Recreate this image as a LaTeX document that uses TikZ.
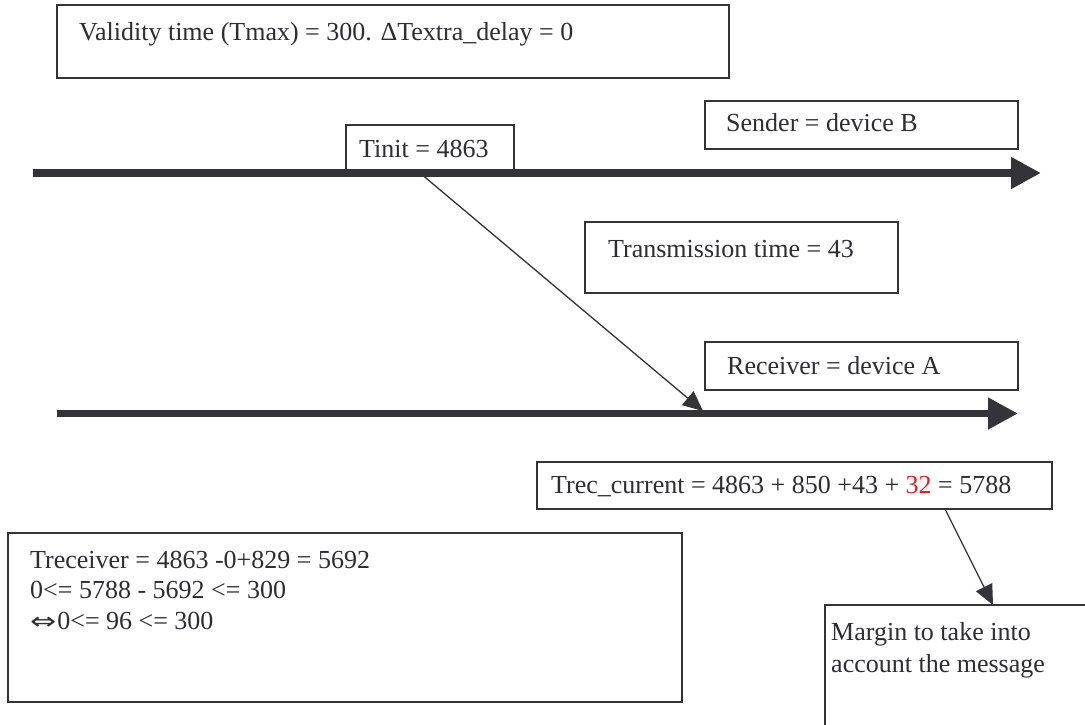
\documentclass[tikz,border=0pt]{standalone}
\usepackage{fontspec}
\setmainfont{Liberation Serif}
\newfontfamily\symfont{DejaVu Sans}
\usetikzlibrary{arrows.meta,calc}
\definecolor{ink}{RGB}{51,51,56}
\definecolor{txt}{RGB}{45,45,50}
\definecolor{redtxt}{RGB}{226,30,30}
\begin{document}
\begin{tikzpicture}[x=1pt,y=-1pt,
  box/.style={draw=ink,line width=1.3pt,fill=white,inner sep=0pt,outer sep=0pt,anchor=north west},
  lbl/.style={inner sep=0pt,anchor=base west,text=txt,font=\fontsize{26}{30.5}\selectfont},
  timeline/.style={draw=ink,line width=7.5pt,-{Triangle[length=30pt,width=30pt]}},
  link/.style={draw=ink,line width=1.3pt,-{Triangle[length=20pt,width=18pt]}}]
\useasboundingbox (0,0) rectangle (1085,724);
\clip (0,0) rectangle (1085,724);
\fill[white] (0,0) rectangle (1085,724);

% top box
\node[box,minimum width=672pt,minimum height=73pt] (validity) at (57,5) {};
\node[lbl] (validityT) at (79,40) {Validity time (Tmax) = 300. ΔTextra\_delay = 0};

% sender
\node[box,minimum width=313pt,minimum height=48pt] (sender) at (705,101) {};
\node[lbl] (senderT) at (726,131) {Sender = device B};
\node[box,minimum width=168pt,minimum height=47pt] (tinit) at (346,125) {};
\node[lbl] (tinitT) at (359,157) {Tinit = 4863};
\coordinate (s0) at (33,173);
\coordinate (s1) at (1041,173);
\draw[timeline] (s0) -- (s1);

% transmission
\node[box,minimum width=313pt,minimum height=71pt] (trans) at (585,222) {};
\node[lbl] (transT) at (608,257) {Transmission time = 43};

% receiver
\node[box,minimum width=313pt,minimum height=48pt] (receiver) at (705,342) {};
\node[lbl] (receiverT) at (727,374) {Receiver = device A};
\coordinate (r0) at (57,413.5);
\coordinate (r1) at (1018,413.5);
\draw[timeline] (r0) -- (r1);

% message
\coordinate (m0) at ($(tinit.south west)+(74,1)$);
\coordinate (m1) at (703,411);
\draw[link] (m0) -- (m1);

% trec current
\node[box,minimum width=515pt,minimum height=47pt] (trec) at (537,462) {};
\node[lbl] (trecT) at (551,493) {Trec\_current = 4863 + 850 +43 + {\color{redtxt}32} = 5788};

% margin
\node[box,minimum width=320pt,minimum height=200pt] (margin) at (825,605) {};
\node[lbl] (marginT1) at (831,640) {Margin to take into};
\node[lbl] (marginT2) at (831,672) {account the message};
\draw[link] ($(trec.south west)+(408,0)$) -- ($(margin.north west)+(168,0)$);

% computation box
\node[box,minimum width=674pt,minimum height=169pt] (calc) at (8,533) {};
\node[lbl] (calcT1) at (30,568) {Treceiver = 4863 -0+829 = 5692};
\node[lbl] (calcT2) at (30,598) {0<= 5788 - 5692 <= 300};
\node[lbl] (calcT3) at (30,629) {\scalebox{1.2}[0.9]{\symfont ⇔}\kern1pt 0<= 96 <= 300};
\end{tikzpicture}
\end{document}
